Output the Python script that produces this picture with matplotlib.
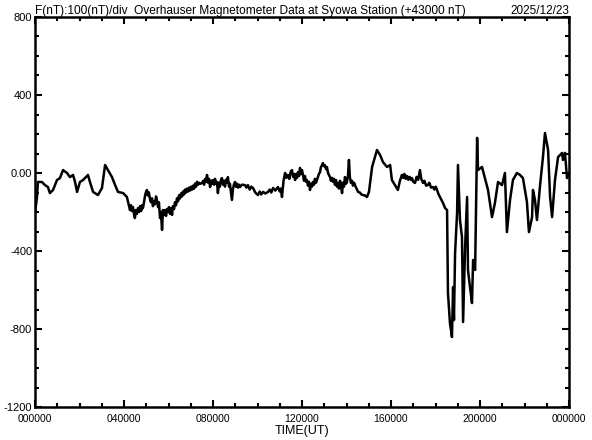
import matplotlib
matplotlib.use("Agg")
import matplotlib.pyplot as plt
from matplotlib.ticker import MultipleLocator, FixedLocator

# Time in hours (UT), value in nT relative to +43000 nT
hours = [0.00, 0.09, 0.13, 0.31, 0.45, 0.58, 0.67, 0.81, 0.99, 1.12, 1.26, 1.44, 1.57, 1.71, 1.80, 1.89,
         2.02, 2.16, 2.38, 2.47, 2.61, 2.83, 3.01, 3.15, 3.28, 3.46, 3.60, 3.73, 3.96, 4.13,
         4.27, 4.31, 4.35, 4.40, 4.44, 4.49, 4.53, 4.58, 4.63, 4.68, 4.72, 4.77, 4.81, 4.85, 4.90, 4.94,
         4.98, 5.03, 5.07, 5.12, 5.17, 5.21, 5.26, 5.30, 5.35, 5.39, 5.44, 5.48, 5.53, 5.57, 5.62, 5.66,
         5.71, 5.75, 5.80, 5.84, 5.89, 5.93, 5.98, 6.02, 6.07, 6.11, 6.16, 6.20, 6.25, 6.29, 6.34, 6.38,
         6.43, 6.47, 6.52, 6.56, 6.61, 6.65, 6.70, 6.74, 6.79, 6.83, 6.88, 6.92, 6.97, 7.01, 7.06, 7.10,
         7.15, 7.19, 7.24, 7.28, 7.33, 7.37, 7.44,
         7.51, 7.56, 7.60, 7.65, 7.69, 7.73, 7.78, 7.82, 7.87, 7.91, 7.96, 8.00, 8.05, 8.09, 8.14, 8.18,
         8.22, 8.27, 8.31, 8.36, 8.40, 8.45, 8.49, 8.54, 8.58, 8.63, 8.67, 8.72, 8.76, 8.81, 8.85, 8.90,
         8.94, 8.99, 9.03, 9.08, 9.12, 9.17,
         9.21, 9.30, 9.44, 9.50, 9.57, 9.65, 9.72, 9.80, 9.90, 10.02, 10.10, 10.17, 10.25, 10.35, 10.47,
         10.55, 10.62, 10.70, 10.80, 10.92, 11.00, 11.05, 11.10, 11.17,
         11.24, 11.30, 11.37, 11.43, 11.49, 11.55, 11.60, 11.64, 11.69, 11.73, 11.78, 11.82, 11.87, 11.91,
         11.96, 12.00, 12.04, 12.09, 12.13, 12.18, 12.22, 12.27, 12.31, 12.36, 12.40, 12.45, 12.49, 12.54,
         12.58, 12.63, 12.67, 12.72, 12.76, 12.81, 12.85, 12.90, 12.94, 12.99, 13.03, 13.08, 13.12, 13.17,
         13.21, 13.26, 13.30, 13.35, 13.39, 13.44, 13.48, 13.53, 13.57, 13.62, 13.66, 13.71, 13.75, 13.80,
         13.84, 13.89, 13.93, 13.98, 14.02, 14.07, 14.11, 14.15, 14.20, 14.25, 14.29, 14.34, 14.38, 14.45,
         14.52, 14.60, 14.67, 14.74, 14.82, 14.92,
         15.01, 15.15, 15.28, 15.37, 15.51, 15.64, 15.82, 15.96, 16.04, 16.18,
         16.31, 16.40, 16.49, 16.55, 16.60, 16.66, 16.72, 16.78, 16.84, 16.90, 16.94, 17.00, 17.08, 17.15,
         17.22, 17.30, 17.36, 17.44, 17.50, 17.58, 17.66, 17.72, 17.80, 17.89, 17.95, 18.01, 18.07, 18.14,
         18.20, 18.34, 18.43, 18.52, 18.56, 18.65, 18.74, 18.79, 18.83, 18.88, 18.97, 19.01, 19.10, 19.19,
         19.24, 19.33, 19.42, 19.46, 19.55, 19.64, 19.69, 19.78, 19.87, 19.91, 20.09, 20.22, 20.36, 20.54,
         20.67, 20.81, 20.99, 21.12, 21.21, 21.35, 21.48, 21.66, 21.80, 21.93, 22.11, 22.20, 22.34, 22.38,
         22.47, 22.56, 22.70, 22.83, 22.92, 23.06, 23.15, 23.24, 23.37, 23.51, 23.69, 23.73, 23.82, 23.91,
         24.00]

values = [-205, -123, -46, -46, -62, -72, -103, -87, -36, -26, 15, 0, -21, -10, -46, -97,
          -46, -36, -10, -46, -97, -113, -77, 41, 15, -21, -62, -97, -103, -123,
          -190, -165, -195, -174, -205, -231, -190, -210, -180, -200, -170, -195, -165, -180, -150, -120,
          -100, -87, -115, -100, -135, -150, -130, -170, -145, -160, -120, -140, -175, -150, -231, -200,
          -292, -190, -215, -190, -220, -185, -200, -175, -210, -180, -215, -170, -185, -150, -165, -130,
          -145, -115, -130, -105, -120, -95, -110, -85, -100, -80, -95, -75, -90, -70, -85, -65,
          -80, -55, -70, -45, -60, -50, -55,
          -51, -40, -60, -30, -45, -10, -50, -30, -72, -40, -55, -36, -60, -30, -55, -46,
          -103, -50, -70, -35, -26, -60, -40, -70, -35, -50, -21, -70, -55, -100, -138, -80,
          -60, -46, -70, -55, -75, -60,
          -72, -60, -62, -75, -62, -85, -70, -77, -100, -113, -95, -110, -97, -105, -97,
          -85, -100, -77, -90, -72, -95, -80, -123, -40,
          0, -25, -10, -30, 5, 15, -20, -5, -36, -5, -25, 5, -15, 26,
          -5, 15, -10, -40, -15, -45, -36, -65, -45, -87, -55, -70, -46, -60,
          -30, -50, -36, -20, -5, 5, 30, 40, 51, 35, 40, 20, 31, 0,
          -10, -21, -40, -25, -45, -30, -60, -36, -70, -51, -80, -40, -60, -103,
          -50, -70, -21, -55, -46, -10, 67, -20, -51, -40, -65, -50, -62, -80,
          -97, -100, -110, -113, -115, -123,
          -97, 31, 82, 118, 92, 56, 31, 41, -36, -62,
          -87, -40, -10, -25, -5, -30, -15, -35, -20, -35, -26, -45, -51, -20,
          -35, 15, -30, -51, -40, -65, -62, -50, -75, -72, -85, -70, -87, -110,
          -123, -154, -180, -190, -615, -770, -841, -585, -754, -410, -205, 41, -241, -328,
          -764, -380, -123, -497, -585, -667, -446, -497, 180, 15, 31, -26, -87, -226,
          -154, -46, -62, 0, -303, -138, -36, 0, -10, -26, -149, -303, -226, -87,
          -138, -241, -62, 82, 205, 118, -123, -226, -36, 82, 103, 67, 103, -26,
          0]

y_ticks = [800, 400, 0, -400, -800, -1200]
y_tick_labels = ["800", "400", "0.00", "-400", "-800", "-1200"]
x_ticks = [0, 4, 8, 12, 16, 20, 24]
x_tick_labels = ["000000", "040000", "080000", "120000", "160000", "200000", "000000"]

title_left = "F(nT):100(nT)/div  Overhauser Magnetometer Data at Syowa Station (+43000 nT)"
title_right = "2025/12/23"
xlabel = "TIME(UT)"

plt.rcParams['font.family'] = ['Liberation Sans', 'DejaVu Sans']

fig = plt.figure(figsize=(5.92, 4.40), dpi=100)
ax = fig.add_axes([35/592, 1-407/440, (569-35)/592, (407-17)/440])

ax.plot(hours, values, color='black', lw=1.8)

ax.set_xlim(0, 24)
ax.set_ylim(-1200, 800)

ax.xaxis.set_major_locator(FixedLocator(x_ticks))
ax.set_xticklabels(x_tick_labels, fontsize=7.5)
ax.xaxis.set_minor_locator(MultipleLocator(1))
ax.yaxis.set_major_locator(FixedLocator(y_ticks))
ax.set_yticklabels(y_tick_labels, fontsize=8)
ax.yaxis.set_minor_locator(MultipleLocator(100))

ax.tick_params(which='both', direction='in', top=True, right=True, width=1.5)
ax.tick_params(which='major', length=5)
ax.tick_params(which='minor', length=3)
ax.tick_params(axis='x', which='major', pad=5)
ax.tick_params(axis='y', which='major', pad=2)

for s in ax.spines.values():
    s.set_linewidth(1.8)

ax.set_xlabel(xlabel, fontsize=9, labelpad=1)
ax.set_title(title_left, loc='left', fontsize=8.6, pad=2)
ax.set_title(title_right, loc='right', fontsize=8.5, pad=2)

fig.savefig("out.png", dpi=100)
